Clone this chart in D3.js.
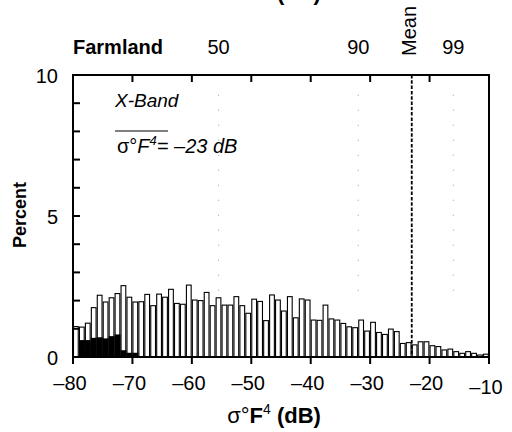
<!DOCTYPE html>
<html>
<head>
<meta charset="utf-8">
<script src="https://cdn.jsdelivr.net/npm/d3@7/dist/d3.min.js"></script>
<style>
body { margin: 0; background: #fff; }
svg text { font-family: "Liberation Sans", Arial, sans-serif; fill: #000; }
</style>
</head>
<body>
<svg id="chart" width="512" height="432"></svg>
<script>
// histogram bins, 1 dB wide, from -80 to -10
var binWidth = 1;
var binStarts = d3.range(-80, -10, binWidth);

// all farmland samples (open bars), percent
var allPercent = [
    1.08, 1.06, 1.20, 1.75, 2.19, 1.95, 2.10, 2.25, 2.53, 2.12,
    1.95, 1.96, 2.22, 1.82, 2.23, 2.12, 2.40, 1.90, 1.87, 2.55,
    2.02, 2.00, 2.29, 1.82, 2.10, 1.84, 1.84, 2.14, 1.82, 1.55,
    2.05, 1.97, 1.29, 2.20, 2.02, 1.63, 2.14, 1.39, 2.06, 2.02,
    1.31, 1.30, 1.84, 1.35, 1.31, 1.19, 1.07, 1.04, 1.31, 0.92,
    1.23, 0.87, 0.80, 0.99, 0.90, 0.48, 0.51, 0.43, 0.54, 0.54,
    0.40, 0.37, 0.25, 0.28, 0.19, 0.13, 0.19, 0.13, 0.07, 0.10
];

// filled (black) bars at the low end, percent
var blackPercent = [
    0.00, 0.60, 0.60, 0.68, 0.70, 0.66, 0.74, 0.80, 0.24, 0.15,
    0.15
];

var xTicks = [-80, -70, -60, -50, -40, -30, -20, -10];
var topTicks = [-70, -60, -50, -40, -30, -20];
var yTicks = [0, 5, 10];
var yMinor = [1, 2, 3, 4, 5, 6, 7, 8, 9];

var pctLabels = ["50", "90", "99"];
var pctValues = [-55.5, -32, -16];
var meanValue = -23;

var svg = d3.select('#chart');

var x = d3.scaleLinear().domain([-80, -10]).range([73, 489]);
var y = d3.scaleLinear().domain([0, 10]).range([357, 75]);

// open bars
svg.append('g')
    .selectAll('rect')
    .data(allPercent)
    .join('rect')
    .attr('x', (d, i) => x(binStarts[i]) + 0.5)
    .attr('width', (d, i) => x(binStarts[i] + binWidth) - x(binStarts[i]) - 1.2)
    .attr('y', d => y(d))
    .attr('height', d => y(0) - y(d))
    .attr('fill', 'white')
    .attr('stroke', '#000')
    .attr('stroke-width', 1.1);

// black bars
svg.append('g')
    .selectAll('rect')
    .data(blackPercent)
    .join('rect')
    .attr('x', (d, i) => x(binStarts[i]))
    .attr('width', (d, i) => x(binStarts[i] + binWidth) - x(binStarts[i]))
    .attr('y', d => y(d))
    .attr('height', d => y(0) - y(d))
    .attr('fill', 'black');

// percentile dotted lines (faint)
svg.append('g')
    .selectAll('line')
    .data(pctValues)
    .join('line')
    .attr('x1', d => x(d)).attr('x2', d => x(d))
    .attr('y1', y(9.3)).attr('y2', y(2.2))
    .attr('stroke', '#999')
    .attr('stroke-width', 1)
    .attr('stroke-dasharray', '1,14');

// mean line
svg.append('line')
    .attr('x1', x(meanValue)).attr('x2', x(meanValue))
    .attr('y1', y(10)).attr('y2', y(0))
    .attr('stroke', 'black')
    .attr('stroke-width', 1.8)
    .attr('stroke-dasharray', '3.5,1.8');

// frame
var frame = svg.append('g').attr('stroke', 'black').attr('stroke-width', 2).attr('fill', 'none');
frame.append('line').attr('x1', x(-80)).attr('x2', x(-10)).attr('y1', y(10)).attr('y2', y(10));
frame.append('line').attr('x1', x(-80)).attr('x2', x(-10)).attr('y1', y(0)).attr('y2', y(0));
frame.append('line').attr('x1', x(-80)).attr('x2', x(-80)).attr('y1', y(10) - 1).attr('y2', y(0) + 7);
frame.append('line').attr('x1', x(-10)).attr('x2', x(-10)).attr('y1', y(10) - 1).attr('y2', y(0) + 7);

// bottom ticks (outward)
frame.selectAll('.bt')
    .data(xTicks)
    .join('line')
    .attr('x1', d => x(d)).attr('x2', d => x(d))
    .attr('y1', y(0)).attr('y2', y(0) + 7);

// top ticks (inward)
frame.selectAll('.tt')
    .data(topTicks)
    .join('line')
    .attr('x1', d => x(d)).attr('x2', d => x(d))
    .attr('y1', y(10)).attr('y2', y(10) + 7);

// left ticks (inward)
frame.selectAll('.lt')
    .data(yMinor)
    .join('line')
    .attr('x1', x(-80)).attr('x2', x(-80) + 7)
    .attr('y1', d => y(d)).attr('y2', d => y(d));

// x tick labels
svg.append('g')
    .selectAll('text')
    .data(xTicks)
    .join('text')
    .attr('x', d => x(d) - 3)
    .attr('y', d => d == -10 ? 394 : 390)
    .attr('text-anchor', 'middle')
    .attr('font-size', 20)
    .text(d => '\u2013' + Math.abs(d));

// y tick labels
svg.append('g')
    .selectAll('text')
    .data(yTicks)
    .join('text')
    .attr('x', 58)
    .attr('y', d => y(d) + 8)
    .attr('text-anchor', 'end')
    .attr('font-size', 20)
    .text(d => d);

// percentile labels on top
svg.append('g')
    .selectAll('text')
    .data(pctValues)
    .join('text')
    .attr('x', d => x(d))
    .attr('y', 54)
    .attr('text-anchor', 'middle')
    .attr('font-size', 20)
    .text((d, i) => pctLabels[i]);

svg.append('text')
    .attr('x', 73).attr('y', 54)
    .attr('font-size', 20)
    .attr('font-weight', 'bold')
    .text('Farmland');

// Mean label
svg.append('text')
    .attr('transform', `translate(${x(meanValue) + 4}, 56) rotate(-90)`)
    .attr('font-size', 20)
    .text('Mean');

// y axis title
svg.append('text')
    .attr('transform', 'translate(26, 215) rotate(-90)')
    .attr('text-anchor', 'middle')
    .attr('font-size', 18)
    .attr('font-weight', 'bold')
    .text('Percent');

// x axis title (bottom) and cut-off copy at the top
function axisTitle(yPos) {
    var t = svg.append('text')
        .attr('x', 274).attr('y', yPos)
        .attr('text-anchor', 'middle')
        .attr('font-size', 22);
    t.append('tspan').text('\u03c3\u00b0');
    t.append('tspan').attr('font-weight', 'bold').text('F');
    t.append('tspan').attr('font-size', 14).attr('dy', -9).text('4');
    t.append('tspan').attr('dy', 9).attr('font-weight', 'bold').text(' (dB)');
}
axisTitle(423);
axisTitle(0);

// annotation
svg.append('text')
    .attr('x', 115).attr('y', 107)
    .attr('font-size', 19)
    .attr('font-style', 'italic')
    .text('X-Band');

svg.append('line')
    .attr('x1', 115).attr('x2', 168)
    .attr('y1', 131).attr('y2', 131)
    .attr('stroke', 'black').attr('stroke-width', 1);

var ann = svg.append('text')
    .attr('x', 117).attr('y', 153)
    .attr('font-size', 20)
    .attr('font-style', 'italic');
ann.append('tspan').attr('font-style', 'normal').text('\u03c3\u00b0');
ann.append('tspan').text('F');
ann.append('tspan').attr('font-size', 13).attr('dy', -8).text('4');
ann.append('tspan').attr('dy', 8).text('= \u201323 dB');
</script>
</body>
</html>
